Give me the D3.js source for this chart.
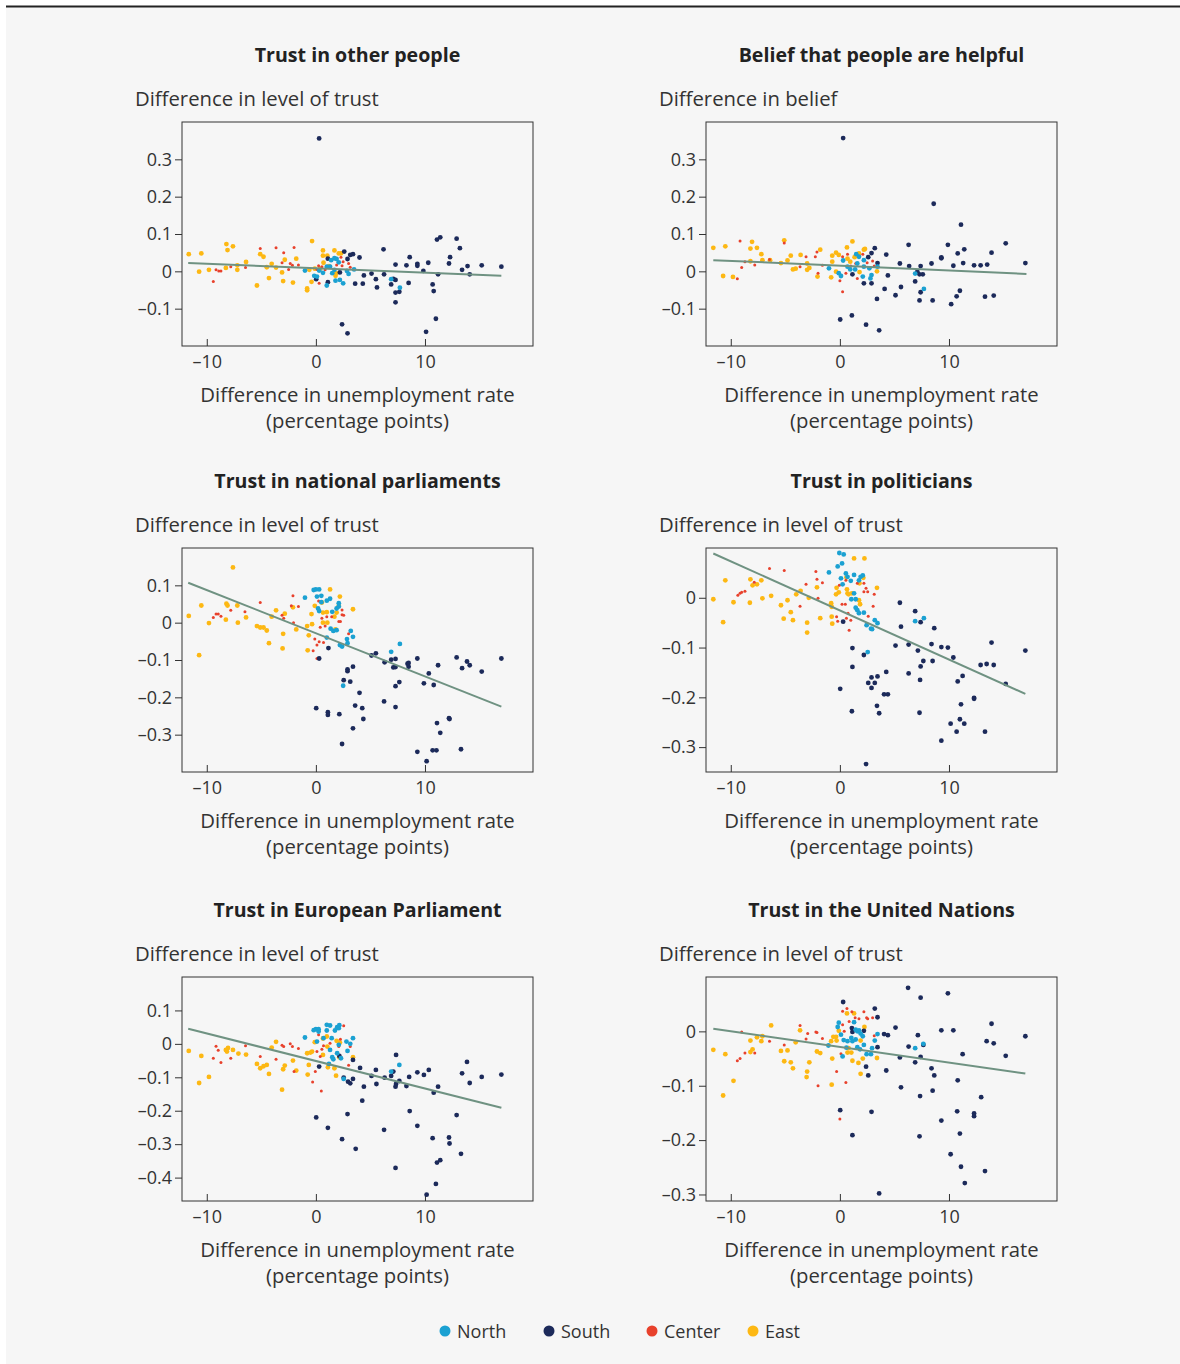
<!DOCTYPE html>
<meta charset="utf-8">
<style>
  body { margin: 0; background: #fff; }
  svg text { font-family: "Open Sans", "Noto Sans", sans-serif; fill: #333; }
  .title { font-weight: bold; font-size: 19.6px; fill: #222; text-anchor: middle; }
  .lab { font-size: 20.3px; }
  .leg { font-size: 18px; }
</style>
<svg width="1180" height="1364"></svg>
<script src="https://d3js.org/d3.v7.min.js"></script>
<script>

// ---- data: [unemployment diff, outcome diff] ----

// Trust in other people
var p1South = [[0.3,0.356],[2.4,-0.142],[2.9,-0.166],[10.1,-0.162],[11.0,-0.127],[11.1,0.085],[11.4,0.091],[12.9,0.0875],[13.2,0.062],[12.3,0.038],[12.2,0.021],[13.4,0.004],[13.9,0.014],[14.1,-0.008],[15.2,0.016],[17.0,0.0125],[9.85,0.001],[10.3,0.023],[11.2,-0.008],[10.7,-0.035],[10.8,-0.053],[9.3,0.02],[9.3,0.015],[8.6,0.038],[8.3,0.016],[8.5,-0.031],[6.2,0.059],[7.3,0.018],[6.25,-0.008],[5.1,-0.006],[4.4,-0.011],[5.5,-0.021],[5.6,-0.043],[6.9,-0.035],[7.1,-0.02],[7.3,-0.023],[7.3,-0.057],[7.65,-0.055],[7.3,-0.083],[4.0,0.037],[3.6,-0.033],[4.3,-0.033],[2.6,0.053],[3.4,0.046],[3.15,0.044],[2.9,0.033],[2.2,-0.003],[1.1,-0.029],[0.03,-0.021],[1.1,0.034]];
var p1North = [[7.7,-0.044],[6.9,-0.021],[-1.0,0.002],[-0.15,-0.012],[1.0,-0.038],[1.4,0.03],[1.7,0.035],[1.9,0.033],[1.3,0.0125],[1.7,0.004],[2.1,0.024],[1.8,-0.025],[2.2,-0.023],[2.5,-0.032],[3.0,-0.007],[2.85,0.001],[3.5,0.005],[0.65,-0.004],[0.3,0.002],[1.5,-0.005],[1.0,0.0125],[0.1,-0.014]];
var p1East = [[-11.65,0.046],[-10.7,-0.001],[-10.5,0.048],[-9.8,0.004],[-8.2,0.073],[-8.1,0.057],[-7.6,0.067],[-8.25,0.009],[-7.2,0.016],[-7.2,0.004],[-6.4,0.025],[-5.4,-0.038],[-5.1,0.046],[-4.8,0.039],[-4.5,0.011],[-4.3,-0.018],[-4.05,0.02],[-3.65,0.01],[-3.1,-0.003],[-3.0,-0.026],[-2.85,0.031],[-2.1,-0.03],[-1.8,0.034],[-0.8,-0.046],[-0.8,-0.051],[-0.35,0.081],[-0.4,-0.028],[-0.1,0.007],[0.65,0.056],[0.65,0.042],[0.7,0.023],[1.05,0.042],[1.7,0.056],[2.1,0.048],[2.3,0.048],[-0.6,0.004],[1.2,0.014],[1.85,-0.005],[1.8,-0.012],[0.4,0.007]];
var p1Center = [[-9.4,-0.027],[-9.15,0.004],[-8.9,0.001],[-8.7,0.001],[-7.8,0.0125],[-6.45,0.01],[-5.1,0.061],[-3.65,0.063],[-2.95,0.05],[-3.1,0.023],[-2.0,0.064],[-2.35,0.021],[-2.15,0.016],[-1.6,0.017],[-2.5,0.005],[0.25,0.015],[0.55,0.0125],[0.3,-0.032],[0.1,0.005],[2.3,0.0375],[2.5,0.026],[2.4,0.015],[3.0,0.021],[3.15,0.011],[1.9,0.017],[0.85,0.004]];

// Belief that people are helpful
var p2South = [[0.3,0.357],[8.6,0.181],[11.1,0.125],[15.2,0.075],[17.0,0.022],[9.9,0.071],[6.3,0.071],[13.9,0.05],[11.4,0.059],[10.8,0.048],[9.3,0.0375],[9.3,0.035],[8.4,0.021],[11.3,0.022],[12.3,0.016],[12.9,0.016],[13.5,0.018],[10.4,0.015],[7.4,0.014],[6.35,0.014],[5.5,0.021],[4.25,0.045],[3.2,0.062],[2.9,0.049],[2.6,0.038],[3.45,0.022],[4.4,-0.011],[4.1,-0.047],[5.1,-0.064],[5.6,-0.042],[6.9,-0.027],[7.3,-0.008],[7.6,-0.008],[7.4,-0.056],[7.3,-0.078],[8.5,-0.078],[10.2,-0.088],[10.7,-0.067],[11.0,-0.052],[13.3,-0.068],[14.1,-0.065],[3.4,-0.074],[2.2,-0.032],[2.9,-0.032],[1.15,-0.008],[0.03,-0.129],[1.1,-0.118],[2.4,-0.143],[3.6,-0.158],[7.1,-0.001]];
var p2North = [[6.9,-0.006],[7.7,-0.047],[-1.0,0.008],[-0.1,-0.005],[0.1,-0.0125],[0.3,0.029],[1.5,0.046],[1.75,0.039],[1.6,0.021],[2.2,0.03],[2.2,0.0125],[2.1,-0.014],[2.7,0.008],[3.45,0.0125],[2.9,-0.01],[2.8,-0.019],[0.95,0.005],[0.7,0.0125],[1.4,0.005]];
var p2East = [[-11.6,0.063],[-10.7,-0.0125],[-10.5,0.067],[-9.8,-0.015],[-8.05,0.079],[-8.2,0.061],[-7.6,0.063],[-8.2,0.027],[-7.2,0.046],[-7.1,0.03],[-6.4,0.03],[-5.1,0.083],[-5.4,0.022],[-4.8,0.029],[-4.5,0.042],[-4.3,0.005],[-4.05,0.007],[-3.6,0.044],[-3.0,0.021],[-3.0,0.004],[-2.8,0.009],[-2.05,-0.014],[-1.8,0.058],[-0.8,-0.016],[-0.7,0.042],[-0.35,0.05],[-0.1,0.044],[-0.7,0.026],[0.65,0.064],[1.15,0.08],[1.75,0.048],[2.2,0.058],[2.3,0.06],[0.7,0.034],[1.35,0.038],[-0.35,-0.001],[1.8,-0.002],[3.4,0.0],[0.95,0.026]];
var p2Center = [[-9.15,0.081],[-9.4,-0.02],[-9.0,0.01],[-8.7,0.026],[-7.8,0.017],[-6.45,0.032],[-5.1,0.076],[-3.65,0.0125],[-3.1,0.039],[-2.25,0.039],[-2.1,0.052],[-1.6,0.016],[-2.0,-0.005],[0.25,-0.055],[0.0,-0.025],[0.55,-0.005],[0.7,0.046],[0.25,0.039],[1.45,0.021],[2.1,0.046],[2.5,0.023],[3.0,0.028],[3.15,0.014],[1.6,-0.019],[1.0,0.014]];

// Trust in national parliaments
var p3South = [[0.3,-0.096],[0.03,-0.229],[1.1,-0.24],[1.1,-0.247],[2.15,-0.245],[2.4,-0.325],[2.55,-0.154],[2.9,-0.125],[2.9,-0.13],[3.15,-0.158],[3.4,-0.283],[3.4,-0.118],[3.6,-0.222],[4.0,-0.188],[4.25,-0.229],[4.35,-0.258],[1.15,-0.068],[5.1,-0.088],[5.5,-0.082],[6.3,-0.106],[6.25,-0.211],[6.9,-0.099],[7.1,-0.12],[7.3,-0.119],[7.3,-0.097],[7.3,-0.17],[7.3,-0.226],[7.65,-0.159],[8.4,-0.11],[8.5,-0.118],[8.5,-0.108],[9.3,-0.096],[9.3,-0.346],[9.9,-0.1625],[10.15,-0.371],[10.35,-0.136],[10.7,-0.342],[10.8,-0.167],[11.05,-0.342],[11.1,-0.269],[11.2,-0.114],[11.4,-0.295],[12.2,-0.256],[12.25,-0.258],[12.9,-0.093],[13.3,-0.339],[13.4,-0.122],[13.85,-0.104],[14.1,-0.114],[15.2,-0.131],[17.0,-0.096]];
var p3North = [[-1.0,0.067],[-0.2,0.0875],[0.0,0.089],[0.3,0.089],[0.1,0.07],[0.5,0.072],[0.5,0.055],[0.2,0.038],[0.3,0.031],[1.0,0.059],[1.3,0.064],[1.5,0.029],[1.9,0.038],[2.1,0.052],[2.1,0.043],[1.0,-0.04],[1.35,-0.016],[1.6,-0.022],[1.9,-0.02],[2.2,-0.06],[2.4,-0.064],[2.85,-0.044],[2.9,-0.055],[3.2,-0.022],[3.4,-0.038],[2.5,-0.169],[6.9,-0.078],[7.7,-0.057]];
var p3East = [[-11.65,0.018],[-10.7,-0.087],[-10.5,0.046],[-9.8,-0.001],[-7.6,0.148],[-8.2,0.051],[-8.1,0.046],[-8.25,0.008],[-7.2,0.046],[-7.15,0.0],[-6.4,0.014],[-5.4,-0.009],[-5.1,-0.013],[-4.8,-0.013],[-4.5,-0.021],[-4.3,-0.055],[-4.05,0.016],[-3.65,0.033],[-2.85,0.024],[-3.0,-0.03],[-3.05,-0.069],[-2.1,0.041],[-1.8,-0.018],[-0.8,-0.009],[-0.75,-0.074],[-0.65,-0.034],[-0.35,-0.004],[-0.4,0.023],[-0.1,0.045],[0.65,0.027],[0.65,0.0],[0.55,0.054],[1.0,0.028],[1.05,0.0],[1.3,0.089],[1.7,0.016],[1.8,-0.018],[1.9,0.027],[2.1,0.045],[2.2,0.07],[3.4,0.036]];
var p3Center = [[-9.4,0.014],[-9.15,0.023],[-8.95,0.023],[-8.7,0.017],[-7.8,0.033],[-6.5,0.029],[-5.1,0.054],[-3.1,0.02],[-2.95,0.012],[-2.1,0.072],[-2.25,0.045],[-2.05,0.0],[-1.6,0.043],[-0.1,-0.044],[-0.25,-0.075],[0.1,-0.06],[0.3,-0.051],[0.1,-0.096],[0.25,0.058],[0.4,-0.0125],[0.7,-0.053],[0.85,-0.009],[0.55,0.012],[1.0,0.016],[2.1,0.003],[2.25,0.003],[2.4,0.021],[2.55,0.02],[2.4,0.034],[3.15,-0.021],[3.0,-0.03],[1.45,0.016]];

// Trust in politicians
var p4South = [[0.3,-0.048],[0.03,-0.183],[1.1,-0.228],[1.15,-0.139],[1.15,-0.101],[2.2,-0.115],[2.4,-0.334],[2.6,-0.171],[2.9,-0.16],[2.9,-0.181],[3.2,-0.171],[3.4,-0.217],[3.45,-0.158],[3.6,-0.232],[4.05,-0.194],[4.25,-0.149],[4.4,-0.194],[5.1,-0.096],[5.5,-0.01],[5.6,-0.058],[6.3,-0.094],[6.3,-0.152],[6.9,-0.027],[7.15,-0.106],[7.4,-0.049],[7.4,-0.138],[7.35,-0.165],[7.3,-0.231],[7.65,-0.127],[8.4,-0.093],[8.65,-0.061],[8.5,-0.127],[9.3,-0.099],[9.3,-0.287],[9.9,-0.1],[10.15,-0.253],[10.4,-0.12],[10.7,-0.269],[10.8,-0.168],[11.0,-0.244],[11.1,-0.214],[11.25,-0.157],[11.4,-0.253],[12.3,-0.201],[12.3,-0.203],[12.9,-0.135],[13.3,-0.269],[13.45,-0.133],[13.9,-0.09],[14.1,-0.135],[15.2,-0.173],[17.0,-0.106]];
var p4North = [[-1.0,0.051],[-0.05,0.09],[0.35,0.087],[0.2,0.069],[-0.2,0.063],[0.1,0.039],[0.25,0.027],[0.55,0.049],[0.7,0.042],[1.0,0.034],[1.3,0.046],[1.75,0.035],[1.9,0.042],[2.1,0.045],[1.05,-0.003],[1.3,0.009],[1.45,-0.003],[1.45,-0.02],[1.6,-0.025],[1.75,-0.031],[2.2,-0.03],[2.45,-0.055],[2.85,-0.062],[2.95,-0.063],[3.2,-0.045],[3.45,-0.051],[2.55,-0.109],[6.9,-0.047],[7.7,-0.041]];
var p4East = [[-11.6,-0.003],[-10.7,-0.049],[-10.5,0.035],[-9.75,-0.009],[-8.2,0.037],[-8.0,0.025],[-7.6,0.027],[-7.2,0.035],[-8.25,-0.01],[-7.1,-0.001],[-6.3,0.004],[-5.4,-0.015],[-5.15,-0.042],[-4.8,-0.005],[-4.5,-0.029],[-4.3,-0.045],[-4.0,0.007],[-3.6,0.014],[-3.0,-0.05],[-3.0,-0.07],[-2.85,0.0],[-2.1,0.021],[-1.8,-0.041],[-0.8,-0.011],[-0.75,-0.038],[-0.7,-0.052],[-0.75,-0.018],[-0.3,0.02],[-0.35,0.007],[-0.1,0.011],[0.65,0.017],[0.7,0.009],[0.8,0.007],[1.1,0.009],[1.3,0.079],[2.25,0.079],[1.8,0.029],[1.75,-0.005],[1.85,-0.013],[2.15,0.04],[3.4,0.02],[0.6,0.041]];
var p4Center = [[-9.35,0.005],[-9.15,0.009],[-9.0,0.011],[-8.7,0.013],[-7.85,0.031],[-6.45,0.059],[-5.1,0.055],[-3.65,-0.017],[-3.1,0.027],[-2.2,0.053],[-2.1,0.037],[-1.6,0.03],[-2.0,-0.001],[-0.2,-0.047],[-0.3,-0.038],[-0.05,0.025],[0.2,-0.013],[0.5,-0.013],[0.6,-0.041],[0.85,-0.065],[1.0,-0.045],[1.6,0.029],[2.2,0.029],[2.2,0.012],[2.4,0.019],[2.55,0.012],[3.15,0.007],[3.05,-0.017],[2.6,-0.037],[0.55,0.035],[0.75,-0.031]];

// Trust in European Parliament
var p5South = [[0.3,-0.068],[0.03,-0.22],[1.1,-0.251],[2.4,-0.285],[2.55,-0.101],[2.9,-0.21],[2.95,-0.113],[3.15,-0.118],[3.4,-0.105],[3.4,-0.048],[3.65,-0.314],[4.05,-0.072],[4.25,-0.17],[4.4,-0.128],[5.1,-0.096],[5.5,-0.078],[5.55,-0.12],[6.3,-0.101],[6.25,-0.257],[6.9,-0.096],[7.1,-0.083],[7.35,-0.033],[7.35,-0.12],[7.3,-0.128],[7.3,-0.371],[7.65,-0.111],[8.3,-0.126],[8.55,-0.099],[8.6,-0.201],[9.3,-0.085],[9.3,-0.245],[9.9,-0.093],[10.15,-0.451],[10.35,-0.078],[10.7,-0.282],[10.8,-0.146],[11.0,-0.419],[11.1,-0.355],[11.2,-0.128],[11.4,-0.348],[12.2,-0.28],[12.25,-0.298],[12.9,-0.213],[13.3,-0.329],[13.4,-0.088],[13.85,-0.054],[14.1,-0.117],[15.2,-0.099],[17.0,-0.092],[2.15,-0.036]];
var p5North = [[-1.0,0.019],[-0.2,0.041],[0.0,0.044],[0.25,0.044],[0.25,0.037],[1.0,0.057],[1.3,0.055],[1.0,0.04],[1.75,0.04],[1.95,0.05],[2.15,0.056],[2.1,0.047],[0.1,0.007],[0.7,0.017],[1.3,-0.018],[1.5,-0.04],[1.6,-0.046],[1.95,-0.028],[2.1,-0.003],[2.3,-0.043],[2.55,-0.105],[2.8,0.007],[2.9,-0.021],[3.15,0.0],[3.4,0.017],[1.2,-0.06],[6.9,-0.083],[7.65,-0.063],[1.45,0.017]];
var p5East = [[-11.65,-0.021],[-10.7,-0.117],[-10.5,-0.036],[-9.8,-0.099],[-8.25,-0.018],[-8.15,-0.023],[-8.05,-0.012],[-7.6,-0.018],[-7.1,-0.029],[-6.4,-0.032],[-5.4,-0.06],[-5.1,-0.073],[-4.8,-0.067],[-4.5,-0.063],[-4.3,-0.09],[-4.05,-0.011],[-3.65,0.006],[-3.0,-0.076],[-2.85,-0.065],[-3.1,-0.137],[-2.1,-0.05],[-1.8,-0.08],[-0.8,-0.028],[-0.75,-0.092],[-0.65,-0.063],[-0.35,-0.023],[-0.1,0.005],[0.65,0.016],[0.65,-0.033],[1.05,-0.008],[1.1,-0.07],[1.7,-0.073],[1.85,-0.095],[1.9,0.009],[2.15,-0.04],[3.4,-0.04],[1.0,0.022],[2.2,0.004],[-0.5,-0.026]];
var p5Center = [[-9.4,-0.043],[-9.15,-0.007],[-8.95,-0.019],[-8.7,-0.056],[-7.8,-0.043],[-6.45,-0.006],[-5.1,-0.038],[-3.65,-0.046],[-3.1,-0.004],[-2.95,-0.008],[-2.35,0.0],[-2.15,-0.008],[-2.0,-0.083],[-1.6,-0.014],[-0.3,-0.114],[-0.05,-0.083],[0.1,-0.023],[0.25,0.027],[0.5,-0.141],[0.55,-0.016],[0.7,-0.006],[1.3,0.002],[2.1,-0.008],[2.25,0.014],[2.55,0.054],[3.0,-0.064],[3.15,-0.008],[0.4,-0.038]];

// Trust in the United Nations
var p6South = [[0.3,0.054],[0.03,-0.145],[1.15,-0.191],[1.1,0.006],[1.15,-0.001],[2.2,0.001],[2.4,-0.065],[2.6,-0.081],[2.9,-0.148],[3.2,0.042],[3.45,0.026],[3.45,-0.029],[3.6,-0.298],[4.05,-0.005],[4.4,-0.007],[4.25,-0.072],[5.1,0.007],[5.5,-0.048],[5.6,-0.103],[6.25,0.08],[6.3,-0.028],[6.9,-0.057],[7.15,-0.007],[7.4,0.062],[7.4,-0.047],[7.35,-0.119],[7.3,-0.193],[7.65,-0.025],[8.4,-0.068],[8.65,-0.081],[8.5,-0.109],[9.3,0.002],[9.3,-0.164],[9.9,0.07],[10.15,-0.226],[10.4,0.002],[10.75,-0.147],[10.8,-0.09],[11.0,-0.188],[11.1,-0.249],[11.25,-0.042],[11.45,-0.279],[12.3,-0.151],[12.3,-0.156],[12.95,-0.121],[13.3,-0.257],[13.45,-0.018],[13.9,0.014],[14.1,-0.022],[15.2,-0.045],[17.0,-0.009]];
var p6North = [[-1.05,-0.026],[-0.1,0.016],[-0.2,0.008],[0.1,-0.006],[0.25,-0.046],[0.35,-0.016],[0.6,-0.03],[0.7,-0.018],[1.05,-0.012],[1.3,0.017],[1.45,0.003],[1.6,0.0],[1.75,0.002],[1.9,-0.004],[2.1,-0.009],[1.45,-0.015],[1.6,-0.029],[1.85,-0.033],[2.2,-0.025],[2.45,-0.042],[2.85,-0.042],[2.95,-0.031],[3.2,-0.017],[3.45,-0.005],[6.9,-0.031],[7.65,-0.023],[1.15,-0.018]];
var p6East = [[-11.6,-0.034],[-10.7,-0.118],[-10.5,-0.042],[-9.75,-0.091],[-8.2,-0.017],[-8.2,-0.038],[-8.0,-0.033],[-7.6,-0.011],[-7.2,-0.018],[-7.1,-0.009],[-6.3,0.011],[-5.4,-0.036],[-5.1,-0.055],[-4.8,-0.035],[-4.5,-0.057],[-4.3,-0.068],[-4.05,-0.02],[-3.65,0.002],[-3.0,-0.074],[-3.05,-0.084],[-2.8,-0.057],[-2.1,-0.037],[-1.8,-0.04],[-0.75,-0.098],[-0.7,-0.05],[-0.8,-0.018],[-0.6,-0.01],[-0.35,-0.01],[-0.3,-0.017],[-0.1,0.001],[0.65,0.033],[0.7,-0.039],[1.05,-0.039],[1.15,-0.054],[1.3,0.033],[1.7,-0.058],[1.9,-0.078],[2.1,-0.05],[2.25,0.008],[1.9,-0.017],[3.4,-0.049],[0.8,-0.031]];
var p6Center = [[-9.4,-0.054],[-9.15,-0.05],[-9.0,-0.001],[-8.7,-0.04],[-7.8,-0.04],[-6.45,-0.018],[-5.1,-0.025],[-3.65,0.011],[-2.95,-0.004],[-3.1,-0.014],[-2.2,-0.001],[-2.1,-0.002],[-2.0,-0.1],[-1.6,-0.013],[-0.3,-0.074],[0.0,-0.161],[0.1,-0.041],[0.25,0.037],[0.55,-0.094],[0.65,0.042],[0.85,0.018],[1.1,0.036],[1.4,0.025],[1.75,0.023],[2.2,0.036],[2.45,0.025],[2.55,0.023],[3.0,0.025],[3.15,-0.008],[0.25,0.012],[0.4,0.0]];

// fitted lines [x0, y0, x1, y1]
var fitLines = [
  [-11.7, 0.022, 17.0, -0.0115],
  [-11.6, 0.030, 17.1, -0.007],
  [-11.7, 0.107, 17.0, -0.225],
  [-11.6, 0.089, 17.0, -0.193],
  [-11.7, 0.045, 17.0, -0.191],
  [-11.6, 0.005, 17.0, -0.0775]
];

var titles = ['Trust in other people', 'Belief that people are helpful', 'Trust in national parliaments',
              'Trust in politicians', 'Trust in European Parliament', 'Trust in the United Nations'];
var yLabels = ['Difference in level of trust', 'Difference in belief', 'Difference in level of trust',
               'Difference in level of trust', 'Difference in level of trust', 'Difference in level of trust'];
var yDomains = [[-0.2, 0.4], [-0.2, 0.4], [-0.4, 0.2], [-0.35, 0.1], [-0.47, 0.2], [-0.312, 0.1]];
var yTicks = [
  [-0.1, 0, 0.1, 0.2, 0.3],
  [-0.1, 0, 0.1, 0.2, 0.3],
  [-0.3, -0.2, -0.1, 0, 0.1],
  [-0.3, -0.2, -0.1, 0],
  [-0.4, -0.3, -0.2, -0.1, 0, 0.1],
  [-0.3, -0.2, -0.1, 0]
];
var xDomain = [-12.27, 19.9];
var xTicks = [-10, 0, 10];

var regions = ['North', 'South', 'Center', 'East'];
var regionColors = ['#1ba1d2', '#1c2a5a', '#e8412c', '#fdb813'];

var panelData = [
  {North: p1North, South: p1South, Center: p1Center, East: p1East},
  {North: p2North, South: p2South, Center: p2Center, East: p2East},
  {North: p3North, South: p3South, Center: p3Center, East: p3East},
  {North: p4North, South: p4South, Center: p4Center, East: p4East},
  {North: p5North, South: p5South, Center: p5Center, East: p5East},
  {North: p6North, South: p6South, Center: p6Center, East: p6East}
];

// ---- layout ----
var svg = d3.select('svg');
svg.append('rect').attr('x', 6).attr('y', 7).attr('width', 1174).attr('height', 1357).attr('fill', '#f6f6f6');
svg.append('line').attr('x1', 6).attr('x2', 1180).attr('y1', 6.5).attr('y2', 6.5)
  .attr('stroke', '#222').attr('stroke-width', 2);

var colX = [182, 706];
var rowY = [122, 548, 977];
var boxW = 351, boxH = 224;

var color = d3.scaleOrdinal().domain(regions).range(regionColors);

function fmt(d) {
  if (d === 0) return '0';
  var s = Math.abs(d) < 1 ? d3.format('.1f')(Math.abs(d)) : String(Math.abs(d));
  return (d < 0 ? '\u2013' : '') + s;
}

panelData.forEach(function(pd, i) {
  var g = svg.append('g')
    .attr('transform', 'translate(' + colX[i % 2] + ',' + rowY[Math.floor(i / 2)] + ')');

  var x = d3.scaleLinear().domain(xDomain).range([0, boxW]);
  var y = d3.scaleLinear().domain(yDomains[i]).range([boxH, 0]);

  g.append('text').attr('class', 'title').attr('x', boxW / 2).attr('y', -60).text(titles[i]);
  g.append('text').attr('class', 'lab').attr('x', -47).attr('y', -16).text(yLabels[i]);
  g.append('text').attr('class', 'lab').attr('x', boxW / 2).attr('y', boxH + 56)
    .attr('text-anchor', 'middle').text('Difference in unemployment rate');
  g.append('text').attr('class', 'lab').attr('x', boxW / 2).attr('y', boxH + 82)
    .attr('text-anchor', 'middle').text('(percentage points)');

  var xa = g.append('g').attr('transform', 'translate(0,' + boxH + ')')
    .call(d3.axisBottom(x).tickValues(xTicks).tickSizeInner(-7).tickSizeOuter(0).tickPadding(9).tickFormat(fmt));
  var ya = g.append('g')
    .call(d3.axisLeft(y).tickValues(yTicks[i]).tickSizeInner(7).tickSizeOuter(0).tickPadding(3).tickFormat(fmt));
  [xa, ya].forEach(function(a) {
    a.select('.domain').remove();
    a.selectAll('.tick line').attr('stroke', '#333');
    a.selectAll('.tick text').attr('fill', '#333')
      .style('font-family', '"Open Sans", sans-serif').style('font-size', '18px');
  });

  // points
  ['East', 'Center', 'South', 'North'].forEach(function(r) {
    g.append('g').selectAll('circle').data(pd[r]).enter().append('circle')
      .attr('cx', function(d) { return x(d[0]); })
      .attr('cy', function(d) { return y(d[1]); })
      .attr('r', r === 'Center' ? 1.5 : 2.4)
      .attr('fill', color(r));
  });

  var fl = fitLines[i];
  g.append('line')
    .attr('x1', x(fl[0])).attr('y1', y(fl[1]))
    .attr('x2', x(fl[2])).attr('y2', y(fl[3]))
    .attr('stroke', '#6f9282').attr('stroke-width', 2);

  g.append('rect').attr('width', boxW).attr('height', boxH)
    .attr('fill', 'none').attr('stroke', '#333').attr('stroke-width', 1);
});

// legend
var legX = [445, 549, 652, 753];
var leg = svg.append('g').attr('transform', 'translate(0,1331)');
regions.forEach(function(r, i) {
  leg.append('circle').attr('cx', legX[i]).attr('cy', 0).attr('r', 5.5).attr('fill', color(r));
  leg.append('text').attr('class', 'leg').attr('x', legX[i] + 12).attr('y', 6.5).text(r);
});

</script>
